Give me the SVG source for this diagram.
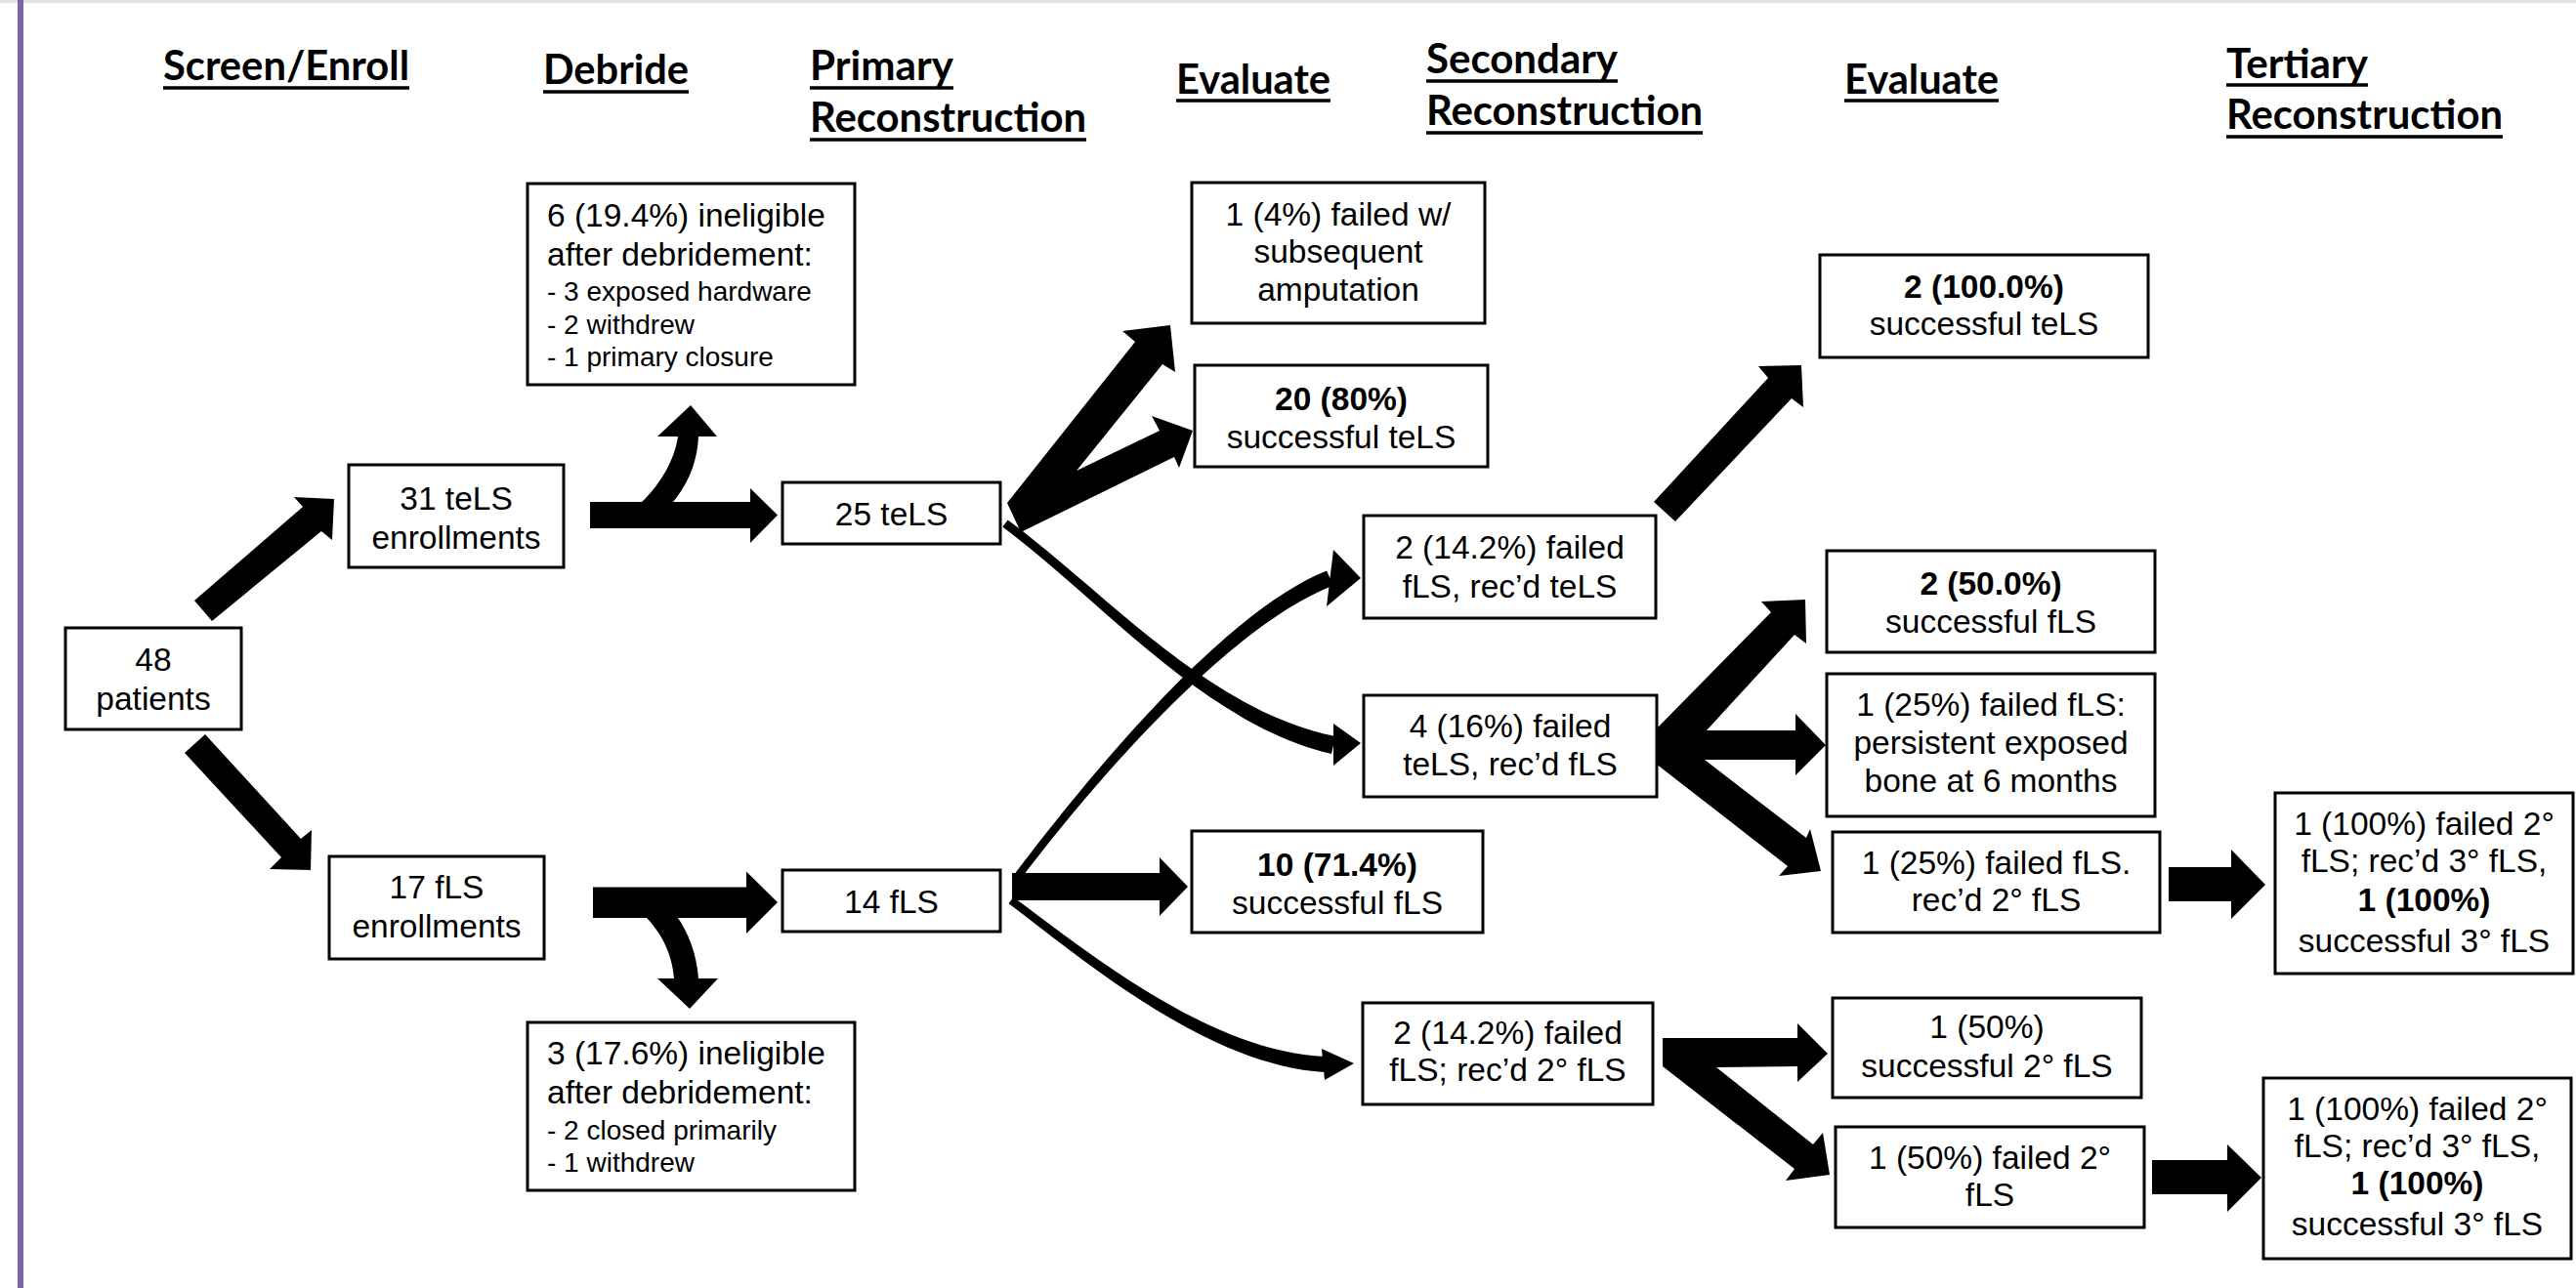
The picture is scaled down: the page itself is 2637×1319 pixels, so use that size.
<svg xmlns="http://www.w3.org/2000/svg" width="2637" height="1319" viewBox="0 0 2637 1319">
<style>
.bx{fill:#fff;stroke:#000;stroke-width:3}
.t{font-family:"Liberation Sans",Arial,sans-serif;font-size:33.5px;fill:#000;text-anchor:middle}
.l{text-anchor:start}
.s{font-size:28px}
.b{font-weight:bold}
.h{font-family:Lato,"Liberation Sans",sans-serif;font-weight:700;font-size:42px;fill:#000}
.u{stroke:#000;stroke-width:3.5}
.a{fill:#000;stroke:none}
</style>
<rect x="0" y="0" width="2637" height="1319" fill="#fff"/>
<rect x="0" y="0" width="2637" height="3" fill="#e2e2e2"/>
<rect x="18" y="0" width="6" height="1319" fill="#8064a2"/>

<g id="headers">
<text class="h" x="167" y="82" textLength="252" lengthAdjust="spacingAndGlyphs">Screen/Enroll</text>
<line class="u" x1="167" y1="90" x2="419" y2="90"/>
<text class="h" x="556" y="86" textLength="149" lengthAdjust="spacingAndGlyphs">Debride</text>
<line class="u" x1="556" y1="94" x2="705" y2="94"/>
<text class="h" x="829" y="82" textLength="147" lengthAdjust="spacingAndGlyphs">Primary</text>
<line class="u" x1="829" y1="90" x2="976" y2="90"/>
<text class="h" x="829" y="135" textLength="283" lengthAdjust="spacingAndGlyphs">Reconstruction</text>
<line class="u" x1="829" y1="143" x2="1112" y2="143"/>
<text class="h" x="1204" y="96" textLength="158" lengthAdjust="spacingAndGlyphs">Evaluate</text>
<line class="u" x1="1204" y1="103" x2="1362" y2="103"/>
<text class="h" x="1460" y="75" textLength="196" lengthAdjust="spacingAndGlyphs">Secondary</text>
<line class="u" x1="1460" y1="83" x2="1656" y2="83"/>
<text class="h" x="1460" y="128" textLength="283" lengthAdjust="spacingAndGlyphs">Reconstruction</text>
<line class="u" x1="1460" y1="136" x2="1743" y2="136"/>
<text class="h" x="1888" y="96" textLength="158" lengthAdjust="spacingAndGlyphs">Evaluate</text>
<line class="u" x1="1888" y1="103" x2="2046" y2="103"/>
<text class="h" x="2279" y="80" textLength="145" lengthAdjust="spacingAndGlyphs">Tertiary</text>
<line class="u" x1="2279" y1="87" x2="2424" y2="87"/>
<text class="h" x="2279" y="132" textLength="283" lengthAdjust="spacingAndGlyphs">Reconstruction</text>
<line class="u" x1="2279" y1="140" x2="2562" y2="140"/>
</g>

<g id="connectors">
<polygon class="a" points="199,615 310,519 301,509 342,511 340,553 329,544 217,636"/>
<polygon class="a" points="210,752 308,859 319,850 318,891 276,890 288,878 189,771"/>
<polygon class="a" points="604,514 768,514 768,500 796,527.5 768,556 768,541 604,541"/>
<path class="a" d="M657,514 C672,500 690,475 694,447 L673,447 L707,415 L734,447 L715,447 C714,472 705,495 689,514 Z"/>
<polygon class="a" points="607,908.6 764,908.6 764,892.5 796,924 764,956 764,940 607,940"/>
<path class="a" d="M662,940 C676,955 688,975 690,1002 L673,1002 L706,1033 L735,1002 L715,1002 C713,975 704,955 694,940 Z"/>
<polygon class="a" points="1031,515 1162,350 1149,339 1198,333 1203,381 1190,373 1102,482 1187,441 1179,426 1221,441 1207,479 1202,468 1045,545"/>
<path class="a" d="M1031.7,532.4 C1131.5,606 1237,728 1367,754 L1363,772 C1233,742 1126.5,614 1026.3,539.6 Z"/>
<polygon class="a" points="1365,741 1393,761 1365,784"/>
<path class="a" d="M1043.2,902.4 C1113,809.5 1255,642 1364.9,599.4 L1358.1,584.6 C1249,628 1107,804.5 1036.8,897.6 Z"/>
<polygon class="a" points="1365,563 1393,592 1358,621"/>
<path class="a" d="M1032.6,925.2 C1123,994.5 1239,1090 1355.5,1098 L1356.5,1082 C1241,1076 1127,985.5 1037.4,918.8 Z"/>
<polygon class="a" points="1353,1074 1386,1089 1356,1106"/>
<polygon class="a" points="1036,894 1187,894 1187,878 1216,908 1187,938 1187,922 1036,922"/>
<polygon class="a" points="1693,514 1810,387 1800,375 1844,374 1846,417 1834,408 1715,534"/>
<polygon class="a" points="1694,748 1813,627 1803,616 1848,614 1849,659 1837,650 1747,748 1838,748 1838,731 1869,763 1838,794 1838,778 1745,778 1849,858 1853,849 1864,892 1821,897 1830,887 1695,782"/>
<polygon class="a" points="1702,1063 1840,1063 1840,1048 1871,1079 1840,1108 1840,1092 1757,1093 1856,1172 1866,1160 1873,1203 1828,1209 1837,1197 1702,1092"/>
<polygon class="a" points="2220,888 2284,888 2284,870 2319,906 2284,941 2284,923 2220,923"/>
<polygon class="a" points="2203,1188 2280,1188 2280,1172 2315,1206 2280,1241 2280,1223 2203,1223"/>
</g>

<g id="n48"><rect class="bx" x="67" y="643" width="180" height="104"/>
<text class="t" x="157" y="687">48</text><text class="t" x="157" y="727">patients</text></g>

<g id="tels31"><rect class="bx" x="357" y="476" width="220" height="105"/>
<text class="t" x="467" y="522">31 teLS</text><text class="t" x="467" y="562">enrollments</text></g>

<g id="fls17"><rect class="bx" x="337" y="877" width="220" height="105"/>
<text class="t" x="447" y="920">17 fLS</text><text class="t" x="447" y="960">enrollments</text></g>

<g id="inel6"><rect class="bx" x="540" y="188" width="335" height="206"/>
<text class="t l" x="560" y="232">6 (19.4%) ineligible</text>
<text class="t l" x="560" y="272">after debridement:</text>
<text class="t l s" x="560" y="308">- 3 exposed hardware</text>
<text class="t l s" x="560" y="342">- 2 withdrew</text>
<text class="t l s" x="560" y="375">- 1 primary closure</text></g>

<g id="inel3"><rect class="bx" x="540" y="1047" width="335" height="172"/>
<text class="t l" x="560" y="1090">3 (17.6%) ineligible</text>
<text class="t l" x="560" y="1130">after debridement:</text>
<text class="t l s" x="560" y="1167">- 2 closed primarily</text>
<text class="t l s" x="560" y="1200">- 1 withdrew</text></g>

<g id="tels25"><rect class="bx" x="801" y="494" width="223" height="63"/>
<text class="t" x="912.5" y="538">25 teLS</text></g>

<g id="fls14"><rect class="bx" x="801" y="891" width="223" height="63"/>
<text class="t" x="912.5" y="935">14 fLS</text></g>

<g id="fail4"><rect class="bx" x="1220" y="187" width="300" height="144"/>
<text class="t" x="1370" y="231">1 (4%) failed w/</text>
<text class="t" x="1370" y="269">subsequent</text>
<text class="t" x="1370" y="308">amputation</text></g>

<g id="succ20"><rect class="bx" x="1223" y="374" width="300" height="104"/>
<text class="t b" x="1373" y="420">20 (80%)</text>
<text class="t" x="1373" y="459">successful teLS</text></g>

<g id="succ10"><rect class="bx" x="1220" y="851" width="298" height="104"/>
<text class="t b" x="1369" y="897">10 (71.4%)</text>
<text class="t" x="1369" y="936">successful fLS</text></g>

<g id="fail2a"><rect class="bx" x="1396" y="528" width="299" height="105"/>
<text class="t" x="1545.5" y="572">2 (14.2%) failed</text>
<text class="t" x="1545.5" y="612">fLS, rec’d teLS</text></g>

<g id="fail4b"><rect class="bx" x="1396" y="712" width="300" height="104"/>
<text class="t" x="1546" y="755">4 (16%) failed</text>
<text class="t" x="1546" y="794">teLS, rec’d fLS</text></g>

<g id="fail2b"><rect class="bx" x="1395" y="1027" width="297" height="104"/>
<text class="t" x="1543.5" y="1069">2 (14.2%) failed</text>
<text class="t" x="1543.5" y="1107">fLS; rec’d 2° fLS</text></g>

<g id="succ100"><rect class="bx" x="1863" y="261" width="336" height="105"/>
<text class="t b" x="2031" y="305">2 (100.0%)</text>
<text class="t" x="2031" y="343">successful teLS</text></g>

<g id="succ50"><rect class="bx" x="1870" y="564" width="336" height="104"/>
<text class="t b" x="2038" y="609">2 (50.0%)</text>
<text class="t" x="2038" y="648">successful fLS</text></g>

<g id="fail25a"><rect class="bx" x="1870" y="690" width="336" height="146"/>
<text class="t" x="2038" y="733">1 (25%) failed fLS:</text>
<text class="t" x="2038" y="772">persistent exposed</text>
<text class="t" x="2038" y="811">bone at 6 months</text></g>

<g id="fail25b"><rect class="bx" x="1876" y="852" width="335" height="103"/>
<text class="t" x="2043.5" y="895">1 (25%) failed fLS.</text>
<text class="t" x="2043.5" y="933">rec’d 2° fLS</text></g>

<g id="tert1"><rect class="bx" x="2329" y="812" width="305" height="185"/>
<text class="t" x="2481.5" y="855">1 (100%) failed 2°</text>
<text class="t" x="2481.5" y="893">fLS; rec’d 3° fLS,</text>
<text class="t b" x="2481.5" y="933">1 (100%)</text>
<text class="t" x="2481.5" y="975">successful 3° fLS</text></g>

<g id="succ50b"><rect class="bx" x="1876" y="1022" width="316" height="102"/>
<text class="t" x="2034" y="1063">1 (50%)</text>
<text class="t" x="2034" y="1103">successful 2° fLS</text></g>

<g id="fail50"><rect class="bx" x="1879" y="1154" width="316" height="103"/>
<text class="t" x="2037" y="1197">1 (50%) failed 2°</text>
<text class="t" x="2037" y="1235">fLS</text></g>

<g id="tert2"><rect class="bx" x="2317" y="1104" width="315" height="185"/>
<text class="t" x="2474.5" y="1147">1 (100%) failed 2°</text>
<text class="t" x="2474.5" y="1185">fLS; rec’d 3° fLS,</text>
<text class="t b" x="2474.5" y="1223">1 (100%)</text>
<text class="t" x="2474.5" y="1265">successful 3° fLS</text></g>
</svg>
